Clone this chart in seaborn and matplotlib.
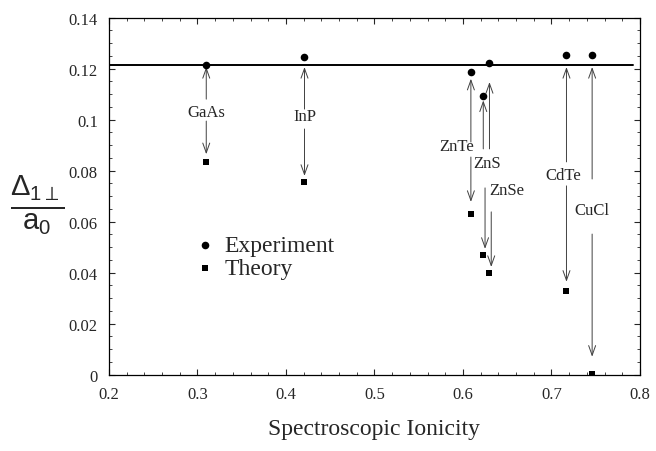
import matplotlib
matplotlib.use("Agg")
import matplotlib.pyplot as plt
import seaborn as sns
import pandas as pd
from matplotlib.ticker import MultipleLocator

# ---- data ----
materials = ["GaAs", "InP", "ZnTe", "ZnS", "ZnSe", "CdTe", "CuCl"]
ionicity = [0.310, 0.421, 0.609, 0.623, 0.630, 0.717, 0.746]
experiment = [0.1215, 0.1246, 0.1188, 0.1093, 0.1220, 0.1254, 0.1254]
theory = [0.0834, 0.0755, 0.0630, 0.0469, 0.0397, 0.0327, 0.0003]
reference_level = 0.1215
x_ticks = [0.2, 0.3, 0.4, 0.5, 0.6, 0.7, 0.8]
y_ticks = [0, 0.02, 0.04, 0.06, 0.08, 0.1, 0.12, 0.14]
y_tick_labels = ["0", "0.02", "0.04", "0.06", "0.08", "0.1", "0.12", "0.14"]

# ---- layout (label / arrow placement) ----
label_x = [0.310, 0.421, 0.593, 0.627, 0.650, 0.713, 0.746]
label_y = [0.1030, 0.1014, 0.0896, 0.0830, 0.0724, 0.0783, 0.0645]
up_from = [0.1080, 0.1041, 0.0912, 0.0885, 0.0885, 0.0834, 0.0767]
up_to = [0.1206, 0.1206, 0.1160, 0.1075, 0.1147, 0.1206, 0.1206]
down_from = [0.0994, 0.0963, 0.0853, 0.0732, 0.0638, 0.0740, 0.0551]
down_to = [0.0864, 0.0779, 0.0677, 0.0493, 0.0422, 0.0364, 0.0070]
down_x = [0.310, 0.421, 0.609, 0.625, 0.632, 0.717, 0.746]

sns.set_style("ticks")
plt.rcParams["font.family"] = ["Liberation Serif", "DejaVu Serif"]
plt.rcParams["mathtext.fontset"] = "custom"
plt.rcParams["mathtext.rm"] = "Liberation Sans"
plt.rcParams["mathtext.it"] = "Liberation Sans"

fig = plt.figure(figsize=(6.56, 4.52), dpi=100)
ax = fig.add_axes([0.166, 0.169, 0.8095, 0.790])

df_exp = pd.DataFrame({"x": ionicity, "y": experiment})
df_th = pd.DataFrame({"x": ionicity, "y": theory})

ax.plot([0.2, 0.792], [reference_level, reference_level], color="black", lw=1.4, zorder=2)

sns.scatterplot(data=df_exp, x="x", y="y", ax=ax, marker="o", s=30, color="black",
                edgecolor="black", linewidth=0, label="Experiment", zorder=4)
sns.scatterplot(data=df_th, x="x", y="y", ax=ax, marker="s", s=22, color="black",
                edgecolor="black", linewidth=0, label="Theory", zorder=4)

arrow_kw = dict(arrowstyle="->,head_length=0.7,head_width=0.25", lw=0.7, color="0.25",
                shrinkA=0, shrinkB=0)
for i, name in enumerate(materials):
    x = ionicity[i]
    ax.annotate("", xy=(x, up_to[i]), xytext=(x, up_from[i]), arrowprops=arrow_kw, zorder=3)
    ax.annotate("", xy=(down_x[i], down_to[i]), xytext=(down_x[i], down_from[i]),
                arrowprops=arrow_kw, zorder=3)
    ax.text(label_x[i], label_y[i], name, ha="center", va="center", fontsize=12)

ax.set_xlim(0.2, 0.8)
ax.set_ylim(0, 0.14)
ax.set_xticks(x_ticks)
ax.set_xticklabels([f"{v:g}" for v in x_ticks])
ax.set_yticks(y_ticks)
ax.set_yticklabels(y_tick_labels)
ax.xaxis.set_minor_locator(MultipleLocator(0.02))
ax.yaxis.set_minor_locator(MultipleLocator(0.005))
ax.tick_params(which="both", direction="in", top=True, right=True, labelsize=12, pad=8)
ax.tick_params(which="major", length=4, width=0.8)
ax.tick_params(which="minor", length=2, width=0.6)
for sp in ax.spines.values():
    sp.set_linewidth(0.9)
    sp.set_color("black")

ax.set_xlabel("Spectroscopic Ionicity", fontsize=17, labelpad=12)
ax.set_ylabel("")
fig.text(0.057, 0.545, r"$\frac{\Delta_{1\perp}}{\mathrm{a}_0}$", fontsize=30, ha="center", va="center")

leg = ax.legend(loc="center left", bbox_to_anchor=(0.118, 0.33), frameon=False, fontsize=17,
                handlelength=1.0, handletextpad=0.35, labelspacing=0.05, borderpad=0.4,
                markerscale=1.0)

fig.savefig("out.png", dpi=100)
